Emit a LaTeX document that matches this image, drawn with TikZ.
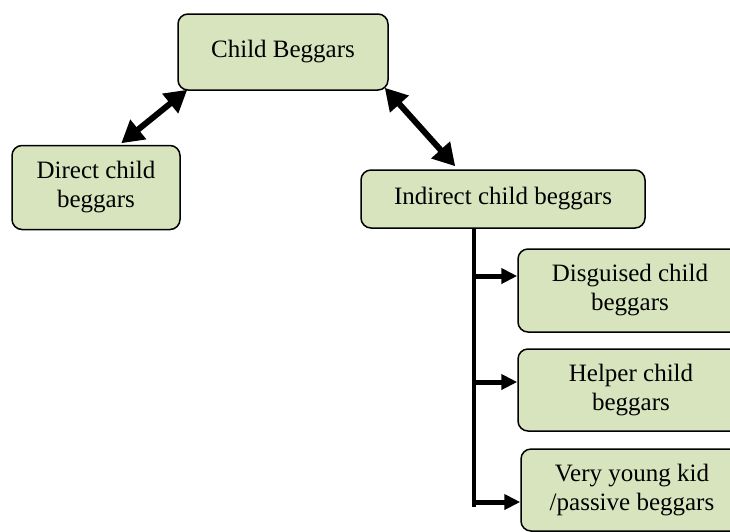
\documentclass[tikz,border=0pt]{standalone}
\usepackage{fontspec}
\setmainfont{Liberation Serif}
\usetikzlibrary{arrows.meta}
\definecolor{boxgreen}{HTML}{D7E4BD}
\begin{document}
\begin{tikzpicture}[x=1pt,y=-1pt,
  box/.style={draw=black, line width=1.5pt, fill=boxgreen, rounded corners=10pt,
    align=center, font=\fontsize{25}{29}\selectfont, inner sep=0pt},
  dbl/.style={line width=6pt, {Triangle[length=22pt,width=24pt]}-{Triangle[length=22pt,width=24pt]}},
  br/.style={line width=5pt, -{Triangle[length=16pt,width=15pt]}},
  trunk/.style={line width=4.5pt}]
\useasboundingbox (0,0) rectangle (730,531);
\node[box, minimum width=210pt, minimum height=76pt] (cb) at (283,52) {Child Beggars};
\node[box, minimum width=168pt, minimum height=84pt] (dc) at (96,187.5) {Direct child\\beggars};
\node[box, minimum width=284pt, minimum height=58pt] (ic) at (503,199) {Indirect child beggars};
\node[box, minimum width=224pt, minimum height=83pt] (dg) at (630,290.5) {Disguised child\\beggars};
\node[box, minimum width=226pt, minimum height=82pt] (hp) at (631,390) {Helper child\\beggars};
\node[box, minimum width=222pt, minimum height=82pt] (vy) at (632,490) {Very young kid\\/passive beggars};
% double arrows
\coordinate (a1) at ([xshift=10pt,yshift=1pt]cb.south west);
\coordinate (a2) at ([xshift=110pt,yshift=1.5pt]dc.north west);
\coordinate (b1) at ([xshift=-4pt,yshift=3pt]cb.south east);
\coordinate (b2) at ([xshift=95pt,yshift=3pt]ic.north west);
\draw[dbl] (a1) -- (a2);
\draw[dbl] (b1) -- (b2);
% trunk and branches
\coordinate (t0) at ([xshift=113.5pt]ic.south west);
\coordinate (t1) at ([yshift=14.5pt]t0 |- dg.west);
\coordinate (t2) at ([yshift=8pt]t0 |- hp.west);
\coordinate (t3) at ([yshift=-12pt]t0 |- vy.west);
\coordinate (t4) at ([yshift=-17pt]t0 |- vy.west);
\draw[trunk] (t0) -- (t4);
\draw[br] ([xshift=-2pt]t1) -- (t1 -| dg.west);
\draw[br] ([xshift=-2pt]t2) -- (t2 -| hp.west);
\draw[br] ([xshift=-2pt]t3) -- (t3 -| vy.west);
\end{tikzpicture}
\end{document}
